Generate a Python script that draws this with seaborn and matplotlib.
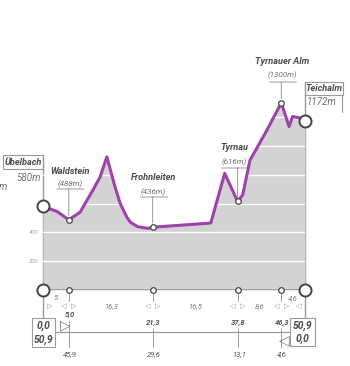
import matplotlib
matplotlib.use("Agg")
import matplotlib.pyplot as plt
import matplotlib.transforms as mtrans
from matplotlib.patches import Rectangle
import seaborn as sns
import pandas as pd

# ---------------- data ----------------
dist_km = [0.0, 2.7, 5.0, 7.2, 9.7, 11.1, 12.4, 14.0, 15.0, 16.3, 17.0, 18.4, 20.4, 21.3,
           32.6, 35.3, 37.8, 38.8, 40.2, 43.5, 46.3, 47.8, 48.5, 49.9, 50.9]
elev_m = [580, 546, 488, 540, 694, 785, 925, 715, 600, 505, 470, 440, 428, 436,
          465, 810, 616, 660, 900, 1110, 1300, 1135, 1205, 1195, 1172]

place_names = ["Übelbach", "Waldstein", "Frohnleiten", "Tyrnau", "Tyrnauer Alm", "Teichalm"]
place_km = [0.0, 5.0, 21.3, 37.8, 46.3, 50.9]
place_elev = [580, 488, 436, 616, 1300, 1172]
place_alt_labels = ["580m", "(488m)", "(436m)", "(616m)", "(1300m)", "1172m"]
seg_labels = ["5", "16,3", "16,5", "8,6", "4,6"]
cum_labels = ["0,0", "5,0", "21,3", "37,8", "46,3", "50,9"]
rem_labels = ["50,9", "45,9", "29,6", "13,1", "4,6", "0,0"]
ytick_vals = [0, 200, 400]
grid_levels = [200, 400, 600, 800, 1000, 1200]

# ---------------- style ----------------
sns.set_style("white")
plt.rcParams["font.family"] = ["Roboto", "DejaVu Sans"]

W, H = 350, 366
fig = plt.figure(figsize=(W / 100, H / 100), dpi=100)
fig.patch.set_facecolor("white")

X0, X1, YB, YT = 43, 305, 290, 40
ax = fig.add_axes([X0 / W, (H - YB) / H, (X1 - X0) / W, (YB - YT) / H])
ax.set_xlim(0, 50.9)
ax.set_ylim(0, (YB - YT) / 0.144)
ax.set_facecolor("none")
for s in ax.spines.values():
    s.set_visible(False)

# pixel transform (origin top-left)
P = mtrans.Affine2D().scale(1 / W, -1 / H).translate(0, 1) + fig.transFigure
TX = mtrans.blended_transform_factory(ax.transData, P)

DARK = "#4a4a4a"
NUM = "#707070"
LINE = "#9a9a9a"
PURPLE = "#9e42ac"
GRAY = "#d3d3d3"

NAME_FS = 6.6
ALT_FS = 5.8
TAB_FS = 5.5
BOX_FS = 7.0
END_FS = 7.4

df = pd.DataFrame({"km": dist_km, "m": elev_m})
ax.fill_between(df["km"], df["m"], 0, color=GRAY, lw=0, zorder=1)
for g in grid_levels:
    ax.axhline(g, color="white", lw=1.0, zorder=2)
ax.axhline(0, color=LINE, lw=1.3, zorder=3)
sns.lineplot(data=df, x="km", y="m", color=PURPLE, lw=2.2, ax=ax, zorder=4)

ax.set_xticks([])
ax.set_yticks(ytick_vals)
ax.set_yticklabels([str(v) for v in ytick_vals], fontsize=4.3, color="#a5a5a5", style="italic")
ax.tick_params(axis="y", length=0, pad=3)
ax.set_xlabel("")
ax.set_ylabel("")


def vline(d, y0, y1, lw=0.8, color=LINE, z=0.5):
    ax.plot([d, d], [y0, y1], transform=TX, color=color, lw=lw, clip_on=False, zorder=z)


def line_px(x0, x1, y0, y1, lw=0.8, color=LINE):
    ax.plot([x0, x1], [y0, y1], transform=P, color=color, lw=lw, clip_on=False, zorder=0.5)


def box_px(x0, y0, x1, y1, lw=0.8, color=LINE):
    fig.add_artist(Rectangle((x0, y1), x1 - x0, y0 - y1, transform=P, fill=False,
                             edgecolor=color, lw=lw))


def txt(d, y, s, size=6, color=NUM, weight="normal", ha="center", dx=0):
    ax.annotate(s, xy=(d, y), xycoords=TX, xytext=(dx, 0), textcoords="offset pixels",
                ha=ha, va="center", fontsize=size, color=color, weight=weight,
                style="italic", annotation_clip=False)


def ftxt(x, y, s, size, color, weight="normal", ha="center"):
    fig.text(x / W, 1 - y / H, s, ha=ha, va="center", fontsize=size, color=color,
             weight=weight, style="italic")


# axis lines at start and end
vline(place_km[0], 155, 318, lw=1.0)
vline(place_km[-1], 82, 318, lw=1.0)

# markers on the profile and on the baseline
big = [0, 5]
small = [1, 2, 3, 4]
ax.scatter([place_km[i] for i in big], [place_elev[i] for i in big], s=75, facecolor="white",
           edgecolor="#444444", lw=1.4, zorder=6, clip_on=False)
ax.scatter([place_km[i] for i in small], [place_elev[i] for i in small], s=16,
           facecolor="white", edgecolor="#444444", lw=0.9, zorder=6, clip_on=False)
ax.scatter([place_km[i] for i in big], [0, 0], s=75, facecolor="white",
           edgecolor="#444444", lw=1.4, zorder=6, clip_on=False)
ax.scatter([place_km[i] for i in small], [0] * len(small), s=16,
           facecolor="white", edgecolor="#444444", lw=0.9, zorder=6, clip_on=False)

# labels of intermediate places: (name y, altitude y, underline y, x offset)
label_rows = {1: (171, 184, 189, 1), 2: (178, 192, 197, 1), 3: (148, 162, 168, -3),
              4: (62, 75, 82, 1)}
for i, (yn, ya, yu, dx) in label_rows.items():
    d = place_km[i]
    txt(d, yn, place_names[i], size=NAME_FS, color=DARK, weight="bold", dx=dx)
    txt(d, ya, place_alt_labels[i], size=ALT_FS, color=NUM, dx=dx)
    for off in (-13 + dx, 14 + dx):
        ax.annotate("", xy=(d, yu), xycoords=TX, xytext=(off, 0), textcoords="offset pixels",
                    arrowprops=dict(arrowstyle="-", color=LINE, lw=0.7, shrinkA=0, shrinkB=0),
                    annotation_clip=False)
    ax.annotate("", xy=(d, place_elev[i]), xycoords="data", xytext=(d, yu), textcoords=TX,
                arrowprops=dict(arrowstyle="-", color=LINE, lw=0.7, shrinkA=0, shrinkB=3),
                annotation_clip=False)

# start / end labels
box_px(3, 155, 43, 169)
ftxt(23, 162, place_names[0], NAME_FS, DARK, weight="bold")
ftxt(41, 178, place_alt_labels[0], BOX_FS, NUM, ha="right")
ftxt(-1, 187, "m", BOX_FS, NUM, ha="left")

box_px(305, 82, 343, 95)
line_px(342, 342, 95, 112)
ftxt(324, 88.5, place_names[5], NAME_FS, DARK, weight="bold")
ftxt(307, 102, place_alt_labels[5], BOX_FS, NUM, ha="left")

# ---------------- distance table below ----------------
for k in range(len(seg_labels)):
    mid = (place_km[k] + place_km[k + 1]) / 2
    yy = 298 if k in (0, 4) else 306
    txt(mid, yy, seg_labels[k], size=TAB_FS, color="#808080")

for i in range(len(place_km)):
    d = place_km[i]
    if i > 0:
        txt(d, 306.5, "◁", size=5.0, color="#8a8a8a", dx=-5 if i < 5 else -6)
    if i < len(place_km) - 1:
        txt(d, 306.5, "▷", size=5.0, color="#8a8a8a", dx=5 if i > 0 else 7)

for i in range(1, len(place_km) - 1):
    d = place_km[i]
    ycum = 315 if i == 1 else 323
    txt(d, ycum, cum_labels[i], size=TAB_FS, color="#555555", weight="bold", dx=1)
    txt(d, 354, rem_labels[i], size=TAB_FS, color="#555555", dx=1)
    vline(d, 293, 301, lw=0.7)
    vline(d, 329 if i > 1 else 321, 347, lw=0.7)

line_px(55, 290, 332, 332, lw=0.9)

# start box
box_px(32, 318, 55, 347)
ftxt(43.5, 325.5, cum_labels[0], END_FS, DARK, weight="bold")
ftxt(43.5, 339.5, rem_labels[0], END_FS, DARK, weight="bold")
ftxt(65, 325, "▷", 10, "#777777")

# end box
box_px(290, 318, 315, 346)
ftxt(302.5, 325.5, cum_labels[-1], END_FS, DARK, weight="bold")
ftxt(302.5, 339, rem_labels[-1], END_FS, DARK, weight="bold")
ftxt(284, 340, "◁", 10, "#777777")

fig.savefig("out.png", dpi=100, facecolor="white")
